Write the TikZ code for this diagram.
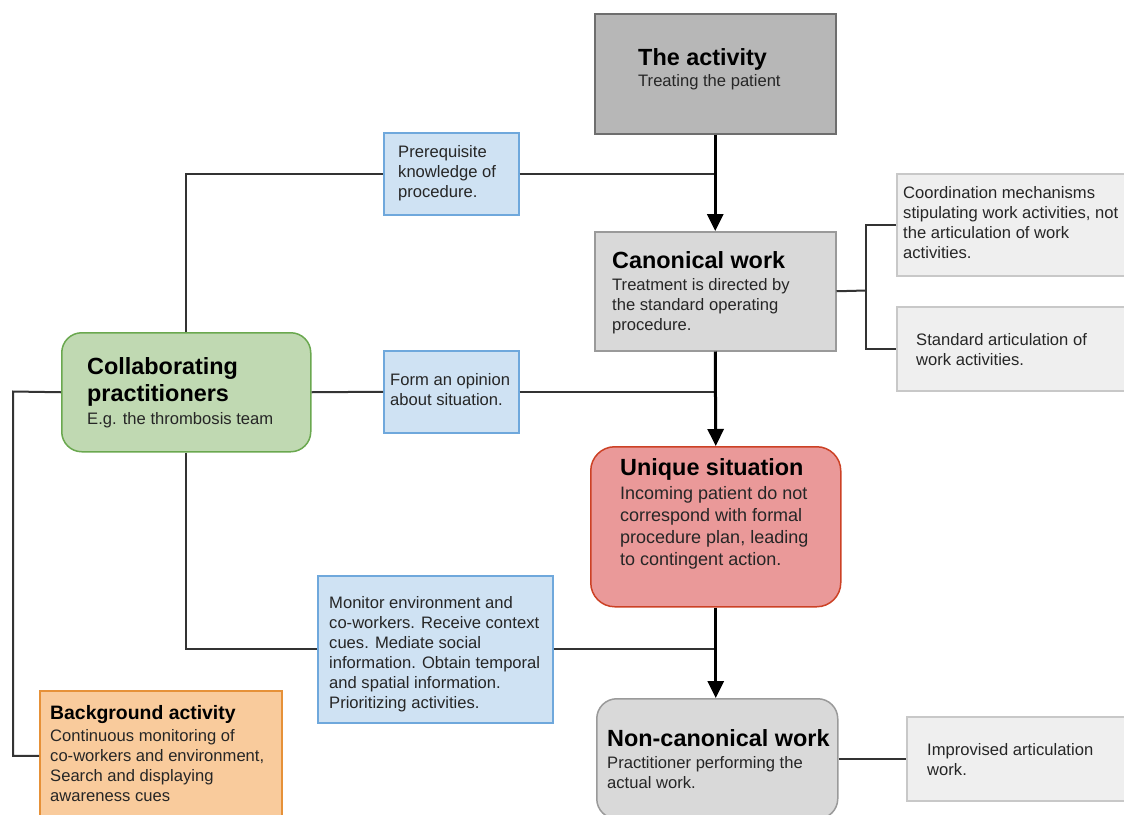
\documentclass[tikz,border=0pt]{standalone}
\usepackage{fontspec}
\setmainfont{Liberation Sans}
\usetikzlibrary{arrows.meta}
\definecolor{actfill}{HTML}{B7B7B7}
\definecolor{actline}{HTML}{6E6E6E}
\definecolor{canfill}{HTML}{D9D9D9}
\definecolor{canline}{HTML}{9A9A9A}
\definecolor{notefill}{HTML}{EFEFEF}
\definecolor{noteline}{HTML}{C8C8C8}
\definecolor{bluefill}{HTML}{CFE2F3}
\definecolor{blueline}{HTML}{6FA8DC}
\definecolor{greenfill}{HTML}{C0D9B2}
\definecolor{greenline}{HTML}{6AA84F}
\definecolor{redfill}{HTML}{EA9999}
\definecolor{redline}{HTML}{CC4125}
\definecolor{orangefill}{HTML}{F9CB9C}
\definecolor{orangeline}{HTML}{E69138}
\definecolor{linec}{HTML}{333333}
\newcommand\bodyfnt{\fontsize{16.6}{20}\selectfont}
\newcommand\bigbodyfnt{\fontsize{18}{22}\selectfont}
\newcommand\titlefnt{\fontsize{23.4}{27}\selectfont\bfseries}
\newcommand\smalltitlefnt{\fontsize{19.4}{23}\selectfont\bfseries}
\tikzset{
  box/.style={draw, line width=1.5pt, anchor=north west, inner sep=0pt},
  actbox/.style={box, fill=actfill, draw=actline},
  canbox/.style={box, fill=canfill, draw=canline},
  notebox/.style={box, fill=notefill, draw=noteline},
  bluebox/.style={box, fill=bluefill, draw=blueline},
  greenbox/.style={box, fill=greenfill, draw=greenline, rounded corners=20pt},
  redbox/.style={box, fill=redfill, draw=redline, rounded corners=24pt},
  ncbox/.style={box, fill=canfill, draw=canline, rounded corners=20pt},
  orangebox/.style={box, fill=orangefill, draw=orangeline},
  % anchored at the baseline of the LAST line
  txt/.style={anchor=base west, align=left, inner sep=0pt, font=\bodyfnt, text=black!85},
  ttl/.style={anchor=base west, align=left, inner sep=0pt, font=\titlefnt, text=black},
  link/.style={draw=linec, line width=2pt},
  flow/.style={draw=black, line width=3pt, -{Triangle[length=17pt,width=16pt]}},
}
\begin{document}
\begin{tikzpicture}[x=1pt,y=-1pt]
\useasboundingbox (0,0) rectangle (1124,814);
\clip (0,0) rectangle (1124,814);

% boxes
\node[actbox, minimum width=241pt, minimum height=120pt] (act) at (594,13) {};
\node[canbox, minimum width=241pt, minimum height=119pt] (can) at (594,231) {};
\node[notebox, minimum width=240pt, minimum height=102pt] (coord) at (896,173) {};
\node[notebox, minimum width=240pt, minimum height=84pt] (std) at (896,306) {};
\node[bluebox, minimum width=135pt, minimum height=82pt] (pre) at (383,132) {};
\node[greenbox, minimum width=249pt, minimum height=119pt] (col) at (61,332) {};
\node[bluebox, minimum width=135pt, minimum height=82pt] (form) at (383,350) {};
\node[redbox, minimum width=250pt, minimum height=160pt] (uni) at (590,446) {};
\node[bluebox, minimum width=235pt, minimum height=147pt] (mon) at (317,575) {};
\node[orangebox, minimum width=242pt, minimum height=130pt] (bg) at (39,690) {};
\node[ncbox, minimum width=241pt, minimum height=120pt] (nc) at (596,698) {};
\node[notebox, minimum width=240pt, minimum height=84pt] (imp) at (906,716) {};

% texts (positions = baseline of last line)
\node[ttl] (actT) at (638,65) {The activity};
\node[txt] (actB) at (638,86) {Treating the patient};
\node[ttl] (canT) at (612,268) {Canonical work};
\node[txt] (canB) at (612,330) {Treatment is directed by\\the standard operating\\procedure.};
\node[txt] (coordB) at (903,258) {Coordination mechanisms\\stipulating work activities, not\\the articulation of work\\activities.};
\node[txt] (stdB) at (916,365) {Standard articulation of\\work activities.};
\node[txt] (preB) at (398,197) {Prerequisite\\knowledge of\\procedure.};
\node[ttl] (colT) at (87,401) {Collaborating\\practitioners};
\node[txt] (colB) at (87,424) {E.g. the thrombosis team};
\node[txt] (formB) at (390,405) {Form an opinion\\about situation.};
\node[ttl] (uniT) at (620,475) {Unique situation};
\node[txt, font=\bigbodyfnt] (uniB) at (620,565) {Incoming patient do not\\correspond with formal\\procedure plan, leading\\to contingent action.};
\node[txt] (monB) at (329,708) {Monitor environment and\\co-workers. Receive context\\cues. Mediate social\\information. Obtain temporal\\and spatial information.\\Prioritizing activities.};
\node[ttl, font=\smalltitlefnt] (bgT) at (50,719) {Background activity};
\node[txt] (bgB) at (50,801) {Continuous monitoring of\\co-workers and environment,\\Search and displaying\\awareness cues};
\node[ttl] (ncT) at (607,746) {Non-canonical work};
\node[txt] (ncB) at (607,788) {Practitioner performing the\\actual work.};
\node[txt] (impB) at (927,775) {Improvised articulation\\work.};

% connectors
\coordinate (br) at (866,290.5);
\coordinate (lft) at (13,391.5);
\draw[link] (col.north) |- (pre.west);
\draw[link] (pre.east) -- ([xshift=2pt]pre.east -| act.south);
\draw[link] (col.east) -- (form.west);
\draw[link] (form.east) -- (form.east -| can.south);
\draw[link] (col.south) |- (mon.west);
\draw[link] (mon.east) -- (mon.east -| uni.south);
\draw[link] (col.west) -- (lft) |- (bg.west);
\draw[link] (can.east) -- (br);
\draw[link] (coord.west) -| (br) |- (std.west);
\draw[link] (nc.east) -- (imp.west);
\draw[flow] (act.south) -- (can.north);
\draw[flow] (can.south) -- (uni.north);
\draw[flow] (uni.south) -- (uni.south |- nc.north);
\end{tikzpicture}
\end{document}
